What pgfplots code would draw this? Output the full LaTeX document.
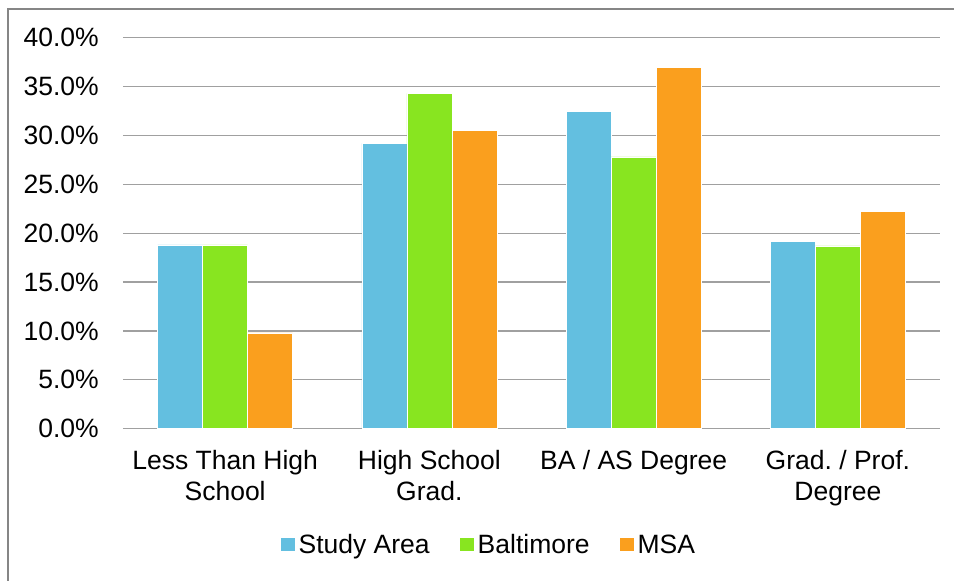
\documentclass[border=0pt]{standalone}
\usepackage{pgfplots}
\pgfplotsset{compat=1.18}
\usepackage{fontspec}
\setmainfont{Liberation Sans}
\frenchspacing

\definecolor{studyblue}{RGB}{99,191,224}
\definecolor{baltgreen}{RGB}{136,229,32}
\definecolor{msaorange}{RGB}{250,159,30}
\definecolor{gridgray}{RGB}{160,160,160}
\definecolor{framegray}{RGB}{134,134,134}

\newcommand{\chartfont}{\fontsize{26.5bp}{31bp}\selectfont}

\begin{document}
\begin{tikzpicture}
\useasboundingbox (-123bp,-152.3bp) rectangle (831bp,428.7bp);
% outer chart frame (right and bottom edges run past the page)
\draw[framegray, line width=1.5bp] (-115bp,-170bp) -- (-115bp,419.7bp) -- (850bp,419.7bp);
\begin{axis}[
  at={(0,0)}, anchor=south west,
  scale only axis,
  width=817bp, height=391bp,
  xmin=-0.5, xmax=3.5,
  ymin=0, ymax=40,
  ytick={0,5,...,40},
  xtick={0,1,2,3},
  xticklabels={Less Than High\\School, High School\\Grad., BA / AS Degree, Grad. / Prof.\\Degree},
  axis line style={draw=none},
  major tick length=0pt,
  ymajorgrids,
  grid style={gridgray, line width=1.3bp},
  /pgf/number format/assume math mode=true,
  yticklabel={\pgfmathprintnumber[fixed,fixed zerofill,precision=1]{\tick}\%},
  yticklabel style={anchor=east, inner sep=0pt, xshift=-24bp, font=\chartfont},
  xticklabel style={anchor=north, inner sep=0pt, yshift=-21bp, align=center, font=\chartfont},
  legend style={
    at={(0.449,-0.2975)}, anchor=center,
    draw=none, fill=none,
    legend columns=-1,
    font=\chartfont,
    nodes={inner xsep=4bp, inner ysep=0pt},
    /tikz/every even column/.append style={column sep=26bp},
  },
  legend image code/.code={\fill[#1, draw=none] (0bp,-6bp) rectangle (14bp,7bp);},
  clip=false,
]
\addplot[ybar, bar width=0.22, bar shift=-0.22, fill=studyblue, draw=white, line width=0.5bp]
  coordinates {(0,18.8) (1,29.2) (2,32.5) (3,19.2)};
\addlegendentry{Study Area}
\addplot[ybar, bar width=0.22, bar shift=0, fill=baltgreen, draw=white, line width=0.5bp]
  coordinates {(0,18.8) (1,34.3) (2,27.8) (3,18.7)};
\addlegendentry{Baltimore}
\addplot[ybar, bar width=0.22, bar shift=0.22, fill=msaorange, draw=white, line width=0.5bp]
  coordinates {(0,9.8) (1,30.5) (2,37.0) (3,22.2)};
\addlegendentry{MSA}
\end{axis}
\end{tikzpicture}
\end{document}
